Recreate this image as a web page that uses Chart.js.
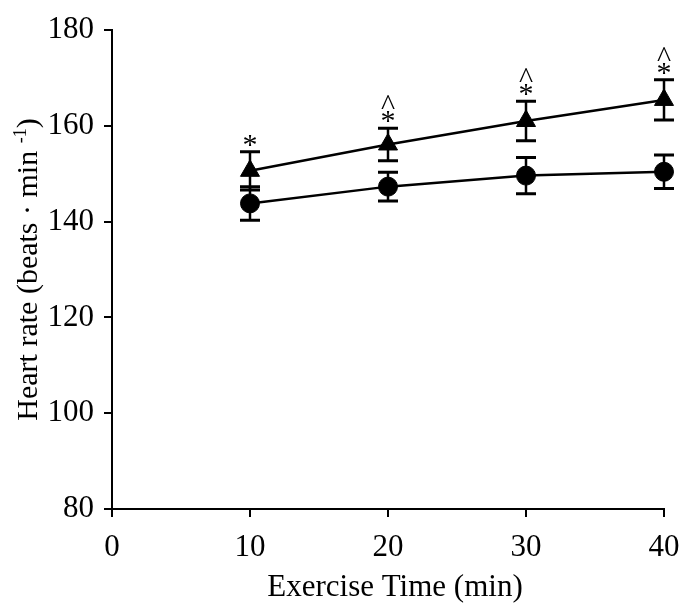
<!DOCTYPE html>
<html>
<head>
<meta charset="utf-8">
<title>Heart rate during exercise</title>
<script src="https://cdn.jsdelivr.net/npm/chart.js@4.4.1/dist/chart.umd.min.js"></script>
<style>
  html, body { margin: 0; padding: 0; background: #fff; }
  canvas { display: block; }
</style>
</head>
<body>
<canvas id="hr" width="682" height="603"></canvas>
<script>
// Exercise time points (min)
const minutes = [10, 20, 30, 40];

// Triangle series: mean heart rate and SD (beats·min-1)
const hrTriangle = [150.6, 156.1, 161.0, 165.4];
const sdTriangle = [4.0, 3.4, 4.1, 4.2];

// Circle series: mean heart rate and SD (beats·min-1)
const hrCircle = [143.8, 147.3, 149.6, 150.4];
const sdCircle = [3.5, 3.0, 3.8, 3.5];

// Significance marks above the triangle series
const starMarks = ['*', '*', '*', '*'];
const caretMarks = ['', '^', '^', '^'];

// Axis ticks
const xTicks = [0, 10, 20, 30, 40];
const yTicks = [80, 100, 120, 140, 160, 180];

const SERIF = '"Liberation Serif", "Times New Roman", serif';

const toPoints = (ys) => minutes.map((t, i) => ({ x: t, y: ys[i] }));

const figurePlugin = {
  id: 'figureExtras',
  beforeDatasetsDraw(chart) {
    const { ctx, scales: { x, y } } = chart;
    ctx.save();
    ctx.strokeStyle = '#000';
    ctx.lineCap = 'butt';
    [[hrTriangle, sdTriangle], [hrCircle, sdCircle]].forEach(([m, s]) => {
      minutes.forEach((t, i) => {
        const px = x.getPixelForValue(t);
        const top = y.getPixelForValue(m[i] + s[i]);
        const bot = y.getPixelForValue(m[i] - s[i]);
        ctx.lineWidth = 2.5;
        ctx.beginPath();
        ctx.moveTo(px, top);
        ctx.lineTo(px, bot);
        ctx.stroke();
        ctx.lineWidth = 3;
        ctx.beginPath();
        ctx.moveTo(px - 10, top);
        ctx.lineTo(px + 10, top);
        ctx.moveTo(px - 10, bot);
        ctx.lineTo(px + 10, bot);
        ctx.stroke();
      });
    });
    ctx.restore();
  },
  afterDraw(chart) {
    const { ctx, scales: { x, y }, chartArea } = chart;
    ctx.save();
    ctx.fillStyle = '#000';

    // significance symbols above the upper error caps
    ctx.font = '30px ' + SERIF;
    ctx.textAlign = 'center';
    ctx.textBaseline = 'alphabetic';
    minutes.forEach((t, i) => {
      const px = x.getPixelForValue(t);
      const cap = y.getPixelForValue(hrTriangle[i] + sdTriangle[i]);
      const starBase = cap + 2;
      if (starMarks[i]) ctx.fillText(starMarks[i], px, starBase);
      if (caretMarks[i]) ctx.fillText(caretMarks[i], px, starBase - 15);
    });

    // x-axis title
    ctx.font = '31px ' + SERIF;
    ctx.textAlign = 'center';
    ctx.fillText('Exercise Time (min)', 395, 596);

    // y-axis title with superscript unit exponent
    const main = 'Heart rate (beats \u00B7 min ';
    const sup = '-1';
    const close = ')';
    ctx.font = '30px ' + SERIF;
    const wMain = ctx.measureText(main).width;
    const wClose = ctx.measureText(close).width;
    ctx.font = '18px ' + SERIF;
    const wSup = ctx.measureText(sup).width;
    const total = wMain + wSup + wClose;
    const cy = (chartArea.top + chartArea.bottom) / 2;
    ctx.translate(37, cy);
    ctx.rotate(-Math.PI / 2);
    ctx.textAlign = 'left';
    let pos = -total / 2;
    ctx.font = '30px ' + SERIF;
    ctx.fillText(main, pos, 0);
    pos += wMain;
    ctx.font = '18px ' + SERIF;
    ctx.fillText(sup, pos, -11);
    pos += wSup;
    ctx.font = '30px ' + SERIF;
    ctx.fillText(close, pos, 0);
    ctx.restore();
  }
};

new Chart(document.getElementById('hr'), {
  type: 'line',
  data: {
    datasets: [
      {
        label: 'Triangle',
        data: toPoints(hrTriangle),
        borderColor: '#000',
        backgroundColor: '#000',
        borderWidth: 2.5,
        pointStyle: 'triangle',
        pointRadius: 11,
        pointBorderWidth: 1,
        clip: false
      },
      {
        label: 'Circle',
        data: toPoints(hrCircle),
        borderColor: '#000',
        backgroundColor: '#000',
        borderWidth: 2.5,
        pointStyle: 'circle',
        pointRadius: 9.5,
        pointBorderWidth: 1,
        clip: false
      }
    ]
  },
  options: {
    responsive: false,
    animation: false,
    devicePixelRatio: 1,
    layout: { padding: { top: 30, right: 18, left: 0, bottom: 0 } },
    plugins: {
      legend: { display: false },
      tooltip: { enabled: false }
    },
    scales: {
      x: {
        type: 'linear',
        min: 0,
        max: 40,
        afterBuildTicks: (s) => { s.ticks = xTicks.map(v => ({ value: v })); },
        afterFit: (s) => { s.height = 94; s.paddingLeft = 0; s.paddingRight = 0; },
        grid: {
          drawOnChartArea: false,
          drawTicks: true,
          tickLength: 8,
          tickColor: '#000',
          tickWidth: 2,
          color: '#000',
          lineWidth: 2
        },
        border: { display: true, color: '#000', width: 2 },
        ticks: {
          color: '#000',
          padding: 12,
          font: { family: SERIF, size: 31 }
        }
      },
      y: {
        type: 'linear',
        min: 80,
        max: 180,
        afterBuildTicks: (s) => { s.ticks = yTicks.map(v => ({ value: v })); },
        afterFit: (s) => { s.width = 112; s.paddingTop = 0; s.paddingBottom = 0; },
        grid: {
          drawOnChartArea: false,
          drawTicks: true,
          tickLength: 8,
          tickColor: '#000',
          tickWidth: 2,
          color: '#000',
          lineWidth: 2
        },
        border: { display: true, color: '#000', width: 2 },
        ticks: {
          color: '#000',
          padding: 10,
          font: { family: SERIF, size: 31 }
        }
      }
    }
  },
  plugins: [figurePlugin]
});
</script>
</body>
</html>
